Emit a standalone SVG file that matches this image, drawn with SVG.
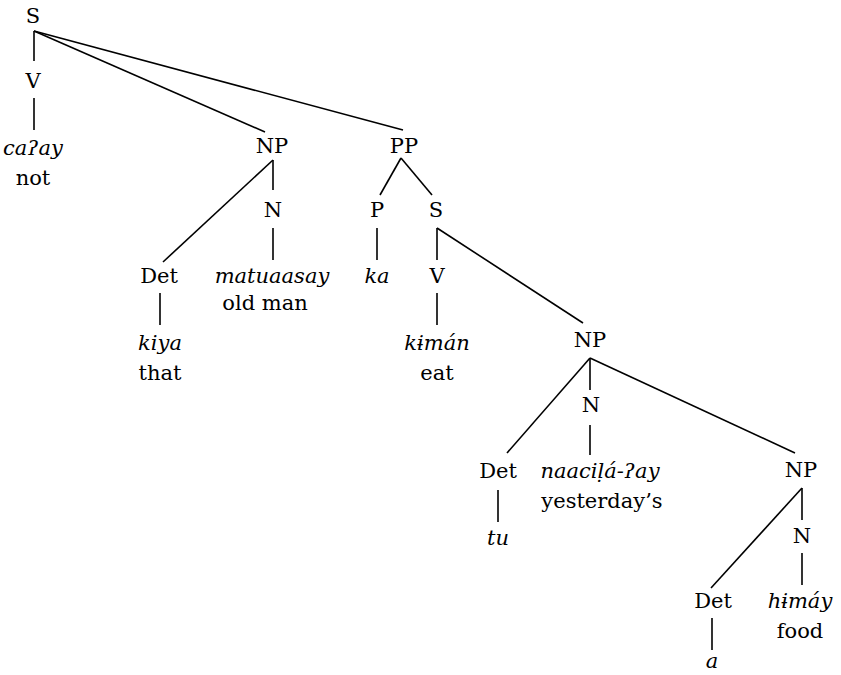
<svg xmlns="http://www.w3.org/2000/svg" width="841" height="675" viewBox="0 0 841 675">
<style>
.t text{fill:#000;text-anchor:middle;font-family:"DejaVu Serif","Liberation Serif",serif;font-size:21px}
.i{font-style:italic}
line{stroke:#000;stroke-width:1.6}
</style>
<rect width="841" height="675" fill="#fff"/>
<g id="connectors">
<line x1="34" y1="31" x2="34" y2="61"/>
<line x1="34" y1="98" x2="34" y2="130"/>
<line x1="34" y1="31" x2="265" y2="132"/>
<line x1="34" y1="31" x2="403" y2="130"/>
<line x1="273" y1="160" x2="163" y2="262"/>
<line x1="273" y1="160" x2="273" y2="190"/>
<line x1="273" y1="228" x2="273" y2="260"/>
<line x1="160" y1="293" x2="160" y2="325"/>
<line x1="401" y1="158" x2="380" y2="195"/>
<line x1="401" y1="158" x2="432" y2="195"/>
<line x1="377" y1="228" x2="377" y2="260"/>
<line x1="437" y1="228" x2="437" y2="260"/>
<line x1="437" y1="228" x2="583" y2="323"/>
<line x1="437" y1="293" x2="437" y2="325"/>
<line x1="590" y1="358" x2="507" y2="453"/>
<line x1="590" y1="358" x2="590" y2="390"/>
<line x1="590" y1="425" x2="590" y2="455"/>
<line x1="590" y1="358" x2="795" y2="453"/>
<line x1="498" y1="490" x2="498" y2="522"/>
<line x1="802" y1="488" x2="711" y2="588"/>
<line x1="802" y1="488" x2="802" y2="520"/>
<line x1="802" y1="553" x2="802" y2="585"/>
<line x1="712" y1="618" x2="712" y2="650"/>
</g>
<g class="t">
<g id="S1"><text x="33" y="23">S</text></g>
<g id="V1"><text x="33" y="88">V</text></g>
<g id="w-caay"><text class="i" x="33" y="155">caʔay</text><text x="33" y="185">not</text></g>
<g id="NP1"><text x="272" y="153">NP</text></g>
<g id="N1"><text x="273" y="217">N</text></g>
<g id="w-matuaasay"><text class="i" x="272" y="283">matuaasay</text><text x="265" y="310">old man</text></g>
<g id="Det1"><text x="159" y="283">Det</text></g>
<g id="w-kiya"><text class="i" x="160" y="350">kiya</text><text x="160" y="380">that</text></g>
<g id="PP"><text x="404" y="153">PP</text></g>
<g id="P"><text x="377" y="217">P</text></g>
<g id="w-ka"><text class="i" x="377" y="283">ka</text></g>
<g id="S2"><text x="436" y="217">S</text></g>
<g id="V2"><text x="437" y="283">V</text></g>
<g id="w-kiman"><text class="i" x="437" y="350">kɨmán</text><text x="437" y="380">eat</text></g>
<g id="NP2"><text x="590" y="347">NP</text></g>
<g id="N2"><text x="591" y="412">N</text></g>
<g id="w-naacila"><text class="i" x="600" y="478">naaciḷá-ʔay</text><text x="602" y="508">yesterday’s</text></g>
<g id="Det2"><text x="498" y="478">Det</text></g>
<g id="w-tu"><text class="i" x="498" y="545">tu</text></g>
<g id="NP3"><text x="801" y="477">NP</text></g>
<g id="N3"><text x="802" y="543">N</text></g>
<g id="w-himay"><text class="i" x="800" y="608">hɨmáy</text><text x="800" y="638">food</text></g>
<g id="Det3"><text x="713" y="608">Det</text></g>
<g id="w-a"><text class="i" x="712" y="668">a</text></g>
</g>
</svg>
